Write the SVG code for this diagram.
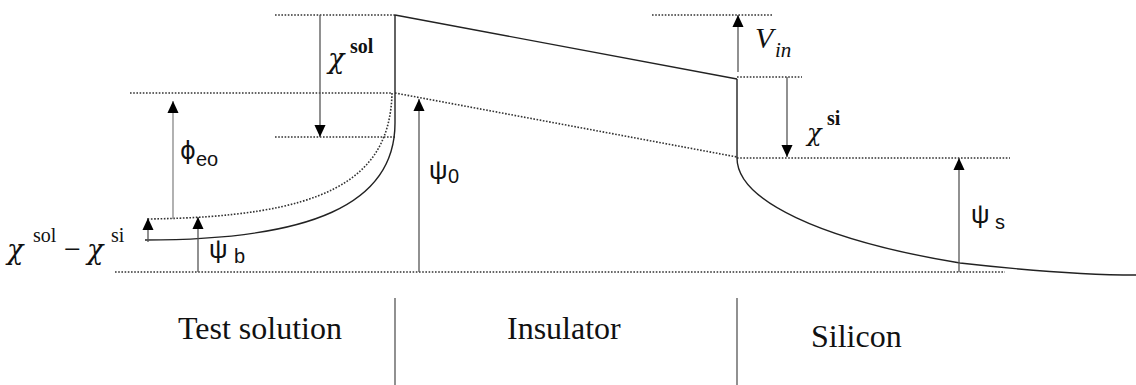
<svg xmlns="http://www.w3.org/2000/svg" width="1136" height="385" viewBox="0 0 1136 385">
<defs>
<style>
.dot{fill:none;stroke:#333;stroke-width:1.6;stroke-dasharray:1.6 1.6}
.sol{fill:none;stroke:#222;stroke-width:1.4}
.arr{fill:none;stroke:#555;stroke-width:1.3;marker-end:url(#ah)}
.sep{fill:none;stroke:#555;stroke-width:1.3}
.lbl{font-family:"Liberation Serif","Times New Roman",serif;font-size:32px;fill:#111}
.gr{font-family:"Liberation Serif","Times New Roman",serif;font-size:30px;fill:#111}
.chi{font-family:"DejaVu Serif",serif;font-style:italic;font-size:27px;fill:#111}
.phi{font-family:"DejaVu Sans",sans-serif;font-size:24px;fill:#111}
.psi{font-family:"Liberation Sans",Arial,sans-serif;font-size:26px;fill:#111}
.sup{font-family:"Liberation Serif","Times New Roman",serif;font-size:20px;fill:#111;font-weight:bold}
.sub{font-family:"Liberation Sans",Arial,sans-serif;font-size:20px;fill:#111}
.it{font-family:"Liberation Serif","Times New Roman",serif;font-style:italic;fill:#111}
</style>
<marker id="ah" markerWidth="12" markerHeight="13" viewBox="0 0 13 12" refX="13" refY="6" orient="auto" markerUnits="userSpaceOnUse">
<path d="M0,0 L13,6 L0,12 z" fill="#000"/>
</marker>
</defs>
<g id="connectors">
<line class="dot" x1="275" y1="15" x2="395" y2="15"/>
<line class="dot" x1="652" y1="15" x2="772" y2="15"/>
<line class="dot" x1="130" y1="93" x2="392" y2="93"/>
<line class="dot" x1="275" y1="137" x2="395" y2="137"/>
<line class="dot" x1="737" y1="77" x2="802" y2="77"/>
<line class="dot" x1="737" y1="158" x2="1010" y2="158"/>
<line class="dot" x1="115" y1="272" x2="1005" y2="272"/>
<line class="dot" x1="395" y1="93" x2="737" y2="157"/>
<path class="dot" d="M392,93 C390,182 322,217 147,219"/>
<line class="sol" x1="395" y1="15" x2="737" y2="79"/>
<line class="sol" x1="395" y1="15" x2="395" y2="123"/>
<path class="sol" d="M395,123 C395,205 310,240 145,240"/>
<line class="sol" x1="737" y1="79" x2="737" y2="158"/>
<path class="sol" d="M737,158 C737,200 820,240 960,263 C1040,272 1100,275 1136,275"/>
<line class="arr" x1="320" y1="15" x2="320" y2="137"/>
<line class="arr" x1="173" y1="219" x2="173" y2="101" style="stroke:#888"/>
<line class="arr" x1="148" y1="242" x2="148" y2="218"/>
<line class="arr" x1="198" y1="272" x2="198" y2="217"/>
<line class="arr" x1="419" y1="272" x2="419" y2="99"/>
<line class="arr" x1="738" y1="72" x2="738" y2="15"/>
<line class="arr" x1="787" y1="77" x2="787" y2="157"/>
<line class="arr" x1="959" y1="272" x2="959" y2="158"/>
<line class="sep" x1="395" y1="298" x2="395" y2="385"/>
<line class="sep" x1="737" y1="298" x2="737" y2="385"/>
</g>
<g id="label-chi-sol">
<text class="chi" x="328" y="68">χ</text><text class="sup" x="350" y="53">sol</text>
</g>
<g id="label-phi-eo">
<text class="phi" x="180" y="159">ϕ</text><text class="sub" x="196" y="166">eo</text>
</g>
<g id="label-psi-0">
<text class="psi" x="429" y="179">ψ</text><text class="sub" x="448" y="183">0</text>
</g>
<g id="label-psi-b">
<text class="psi" x="209" y="258">ψ</text><text class="sub" x="234" y="263">b</text>
</g>
<g id="label-chi-diff">
<text class="chi" x="7" y="259">χ</text><text class="sup" x="33" y="242" style="font-weight:normal">sol</text>
<text class="gr" x="64" y="259">−</text>
<text class="chi" x="87" y="259">χ</text><text class="sup" x="111" y="242" style="font-weight:normal">si</text>
</g>
<g id="label-vin">
<text class="it" x="755" y="48" font-size="30">V</text><text class="it" x="775" y="57" font-size="21">in</text>
</g>
<g id="label-chi-si">
<text class="chi" x="807" y="141" style="font-size:24px">χ</text><text class="sup" x="827" y="125">si</text>
</g>
<g id="label-psi-s">
<text class="psi" x="971" y="223">ψ</text><text class="sub" x="995" y="229">s</text>
</g>
<g id="region-test-solution"><text class="lbl" x="178" y="339">Test solution</text></g>
<g id="region-insulator"><text class="lbl" x="507" y="339">Insulator</text></g>
<g id="region-silicon"><text class="lbl" x="811" y="347">Silicon</text></g>
</svg>
